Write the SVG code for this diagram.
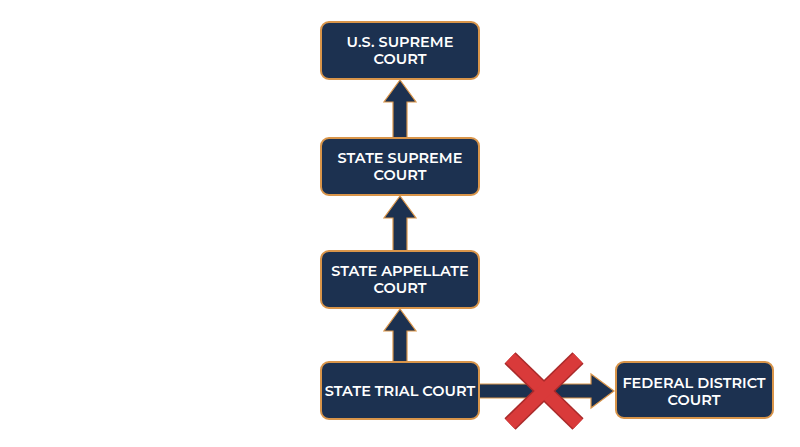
<svg xmlns="http://www.w3.org/2000/svg" width="800" height="447" viewBox="0 0 800 447">
<style>
.box{fill:#1c3150;stroke:#d9954a;stroke-width:2}
.arr{fill:#1c3150;stroke:#d9954a;stroke-width:1.2}
text{font-family:Montserrat,"Open Sans","Liberation Sans",sans-serif;font-weight:600;font-size:14.5px;fill:#fff;text-anchor:middle}
</style>
<rect width="800" height="447" fill="#fff"/>
<g id="connectors">
<polygon class="arr" points="393,138 393,102 384,102 400,80 416,102 407,102 407,138"/>
<polygon class="arr" points="393,251 393,218 384,218 400,196 416,218 407,218 407,251"/>
<polygon class="arr" points="393,362 393,331 384,331 400,309 416,331 407,331 407,362"/>
<polygon class="arr" points="479,384 591,384 591,374 614,391 591,408 591,398 479,398"/>
<g id="cross" stroke="#a92a2a" stroke-width="16" stroke-linecap="butt"><line x1="510" y1="358" x2="578" y2="424"/><line x1="578" y1="358" x2="510" y2="424"/></g>
<g stroke="#d93a3a" stroke-width="13"><line x1="510" y1="358" x2="578" y2="424"/><line x1="578" y1="358" x2="510" y2="424"/></g>
</g>
<g id="n1"><rect class="box" x="321" y="22" width="158" height="57" rx="8"/><text x="400" y="47">U.S. SUPREME</text><text x="400" y="64">COURT</text></g>
<g id="n2"><rect class="box" x="321" y="138" width="158" height="57" rx="8"/><text x="400" y="163">STATE SUPREME</text><text x="400" y="180">COURT</text></g>
<g id="n3"><rect class="box" x="321" y="251" width="158" height="57" rx="8"/><text x="400" y="276">STATE APPELLATE</text><text x="400" y="293">COURT</text></g>
<g id="n4"><rect class="box" x="321" y="362" width="158" height="57" rx="8"/><text x="400" y="396">STATE TRIAL COURT</text></g>
<g id="n5"><rect class="box" x="616" y="362" width="157" height="56" rx="8"/><text x="694" y="388">FEDERAL DISTRICT</text><text x="694" y="405">COURT</text></g>
</svg>
